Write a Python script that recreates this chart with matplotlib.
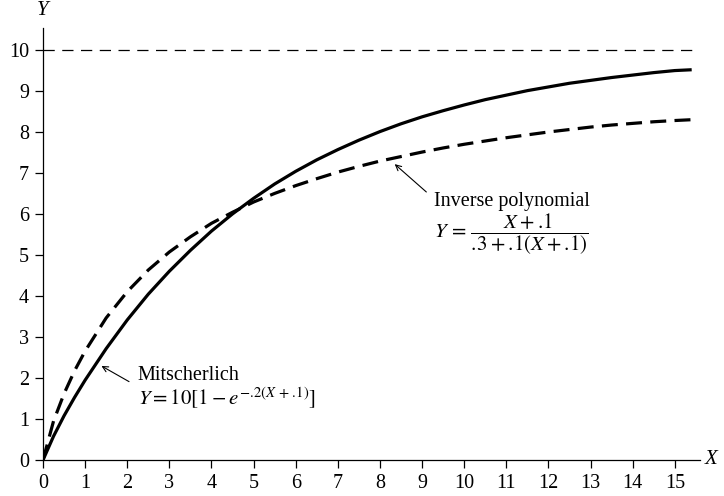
import matplotlib
matplotlib.use("Agg")
import matplotlib.pyplot as plt

plt.rcParams['font.family'] = ['Liberation Serif', 'DejaVu Serif']
plt.rcParams['mathtext.fontset'] = 'stix'

# values
x_vals = [0, 0.25, 0.5, 0.75, 1, 1.5, 2, 2.5, 3, 3.5, 4, 4.5, 5, 5.5, 6, 6.5, 7,
          7.5, 8, 8.5, 9, 9.5, 10, 10.5, 11, 11.5, 12, 12.5, 13, 13.5, 14, 14.5,
          15, 15.4]
mitscherlich = [0.0, 0.58, 1.08, 1.53, 1.95, 2.72, 3.42, 4.05, 4.61, 5.12, 5.59,
                6.01, 6.39, 6.74, 7.05, 7.33, 7.58, 7.81, 8.02, 8.21, 8.38, 8.53,
                8.67, 8.80, 8.91, 9.02, 9.11, 9.20, 9.27, 9.34, 9.40, 9.46, 9.51,
                9.53]
inverse_poly = [0.0, 0.95, 1.62, 2.18, 2.66, 3.47, 4.11, 4.64, 5.08, 5.45, 5.78,
                6.05, 6.30, 6.51, 6.70, 6.87, 7.03, 7.17, 7.30, 7.41, 7.52, 7.62,
                7.71, 7.79, 7.87, 7.94, 8.01, 8.07, 8.13, 8.18, 8.22, 8.26, 8.29,
                8.31]
asymptote = 10
x_ticks = list(range(0, 16))
y_ticks = list(range(0, 11))

fig = plt.figure(figsize=(7.24, 4.96), dpi=100)
ax = fig.add_axes([0.0594, 0.0726, 0.9076, 0.871])

ax.plot(x_vals, mitscherlich, color='black', lw=2.3, solid_capstyle='butt')
ax.plot(x_vals, inverse_poly, color='black', lw=2.3, dashes=(5, 2.6))
ax.axhline(asymptote, xmin=0, xmax=0.995, color='black', lw=0.9, dashes=(9, 6))

ax.set_xlim(0, 15.6)
ax.set_ylim(0, 10.55)
ax.set_xticks(x_ticks)
ax.set_yticks(y_ticks)
ax.tick_params(direction='out', length=6, width=0.9, labelsize=14.5, pad=4)
for s in ['top', 'right']:
    ax.spines[s].set_visible(False)
for s in ['left', 'bottom']:
    ax.spines[s].set_linewidth(0.9)

ax.text(15.72, 0, 'X', fontsize=15, style='italic', ha='left', va='center')
ax.text(0, 10.75, 'Y', fontsize=15, style='italic', ha='center', va='bottom')

# Mitscherlich label
ax.annotate('', xy=(1.33, 2.33), xytext=(2.1, 1.88),
            arrowprops=dict(arrowstyle='->', color='black', lw=0.8))
ax.text(2.25, 2.3, 'Mitscherlich', fontsize=14.5, ha='left', va='top')
ax.text(2.25, 1.33, r'$Y = 10[1 - e^{-.\!2(X\,+\,.\!1)}]$', fontsize=15,
        ha='left', va='baseline')

# Inverse polynomial label
ax.annotate('', xy=(8.3, 7.27), xytext=(9.15, 6.5),
            arrowprops=dict(arrowstyle='->', color='black', lw=0.8))
ax.text(9.28, 6.55, 'Inverse polynomial', fontsize=14.5, ha='left', va='top')
ax.text(9.28, 5.5, r'$Y\,=\,\dfrac{X + .\!1}{.\!3 + .\!1(X + .\!1)}$', fontsize=15,
        ha='left', va='center')

fig.savefig('out.png', dpi=100)
